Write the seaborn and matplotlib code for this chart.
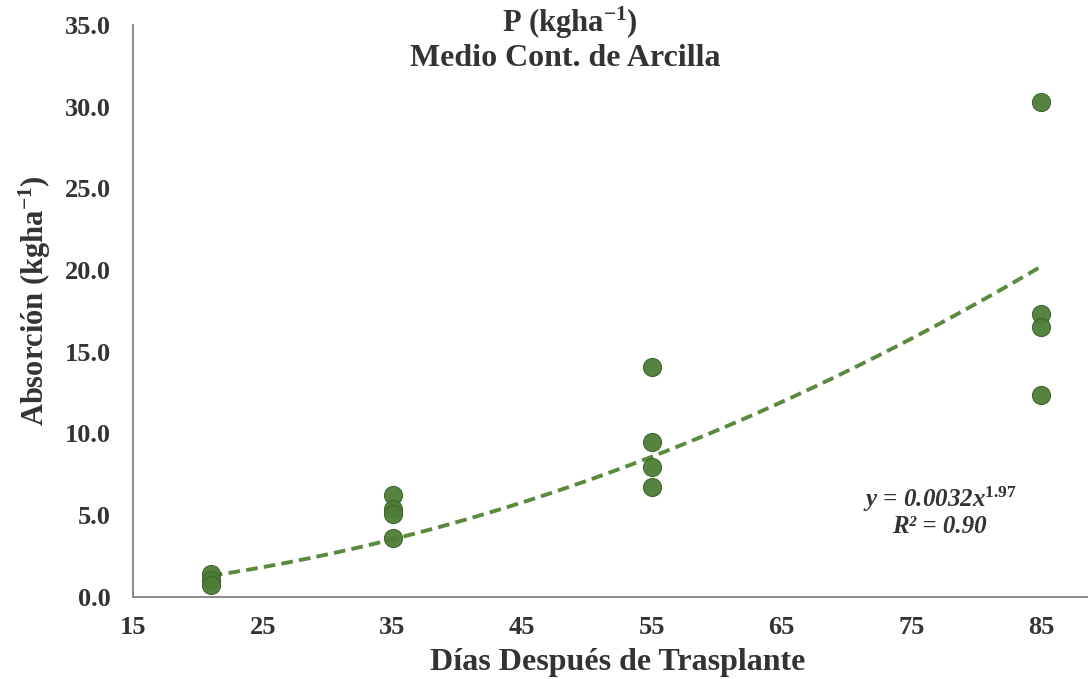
import numpy as np
import pandas as pd
import matplotlib
matplotlib.use("Agg")
import matplotlib.pyplot as plt
import seaborn as sns

# Sampling days and phosphorus uptake (kg/ha)
dias = [21, 21, 21, 35, 35, 35, 35, 55, 55, 55, 55, 85, 85, 85, 85]
absorcion = [1.4, 1.05, 0.7, 6.25, 5.4, 5.1, 3.6, 14.05, 9.5, 7.95, 6.7, 30.3, 17.3, 16.5, 12.35]

# Power trend y = a * x^b
coef_a = 0.0032
coef_b = 1.97
r2 = 0.90

x_ticks = [15, 25, 35, 45, 55, 65, 75, 85]
y_ticks = [0, 5, 10, 15, 20, 25, 30, 35]

sns.set_theme(style="white")
plt.rcParams["font.family"] = ["Liberation Serif", "DejaVu Serif"]
plt.rcParams["font.weight"] = "bold"
plt.rcParams["mathtext.fontset"] = "custom"
plt.rcParams["mathtext.rm"] = "Liberation Serif:bold"
plt.rcParams["mathtext.bf"] = "Liberation Serif:bold"
plt.rcParams["mathtext.it"] = "Liberation Serif:italic:bold"

fig = plt.figure(figsize=(10.9, 6.79), dpi=100)
ax = fig.add_axes([0.122, 0.121, 0.875, 0.842])

df = pd.DataFrame({"dias": dias, "abs": absorcion})

xs = np.linspace(min(dias), max(dias), 200)
trend = pd.DataFrame({"dias": xs, "abs": coef_a * xs ** coef_b})
sns.lineplot(data=trend, x="dias", y="abs", ax=ax, color="#5b8a3e",
             linewidth=2.8, linestyle=(0, (3, 1.6)), zorder=2)

sns.scatterplot(data=df, x="dias", y="abs", ax=ax, s=170, color="#4d7d36",
                edgecolor="#3b6529", linewidth=0.8, zorder=3, alpha=0.95)

ax.set_xlim(15, 88.5)
ax.set_ylim(0, 35)
ax.set_xticks(x_ticks)
ax.set_yticks(y_ticks)
ax.set_xticklabels([str(v) for v in x_ticks])
ax.set_yticklabels([f"{v:.1f}" for v in y_ticks])
ax.tick_params(axis="both", length=0, labelsize=19, colors="#333333")
for lbl in ax.get_xticklabels() + ax.get_yticklabels():
    lbl.set_fontweight("bold")
ax.tick_params(axis="x", pad=14)
ax.tick_params(axis="y", pad=16)

for side in ["top", "right"]:
    ax.spines[side].set_visible(False)
for side in ["left", "bottom"]:
    ax.spines[side].set_color("#8a8a8a")
    ax.spines[side].set_linewidth(1.4)

ax.set_xlabel("")
ax.set_ylabel("")

fig.text(0.567, 0.025, "Días Después de Trasplante", ha="center", va="center",
         fontsize=23, fontweight="bold", color="#333333")
fig.text(0.032, 0.558, "Absorción (kgha$^{-1}$)", ha="center", va="center",
         rotation=90, fontsize=22, fontweight="bold", color="#333333")

fig.text(0.523, 0.967, "P (kgha$^{-1}$)", ha="center", va="center",
         fontsize=22, fontweight="bold", color="#333333")
fig.text(0.519, 0.914, "Medio Cont. de Arcilla", ha="center", va="center",
         fontsize=23, fontweight="bold", color="#333333")

fig.text(0.862, 0.265, "y = 0.0032x$^{1.97}$", ha="center", va="center",
         fontsize=18, fontweight="bold", fontstyle="italic", color="#333333")
fig.text(0.862, 0.225, f"R² = {r2:.2f}", ha="center", va="center",
         fontsize=18, fontweight="bold", fontstyle="italic", color="#333333")

fig.savefig("out.png", dpi=100, facecolor="white")
